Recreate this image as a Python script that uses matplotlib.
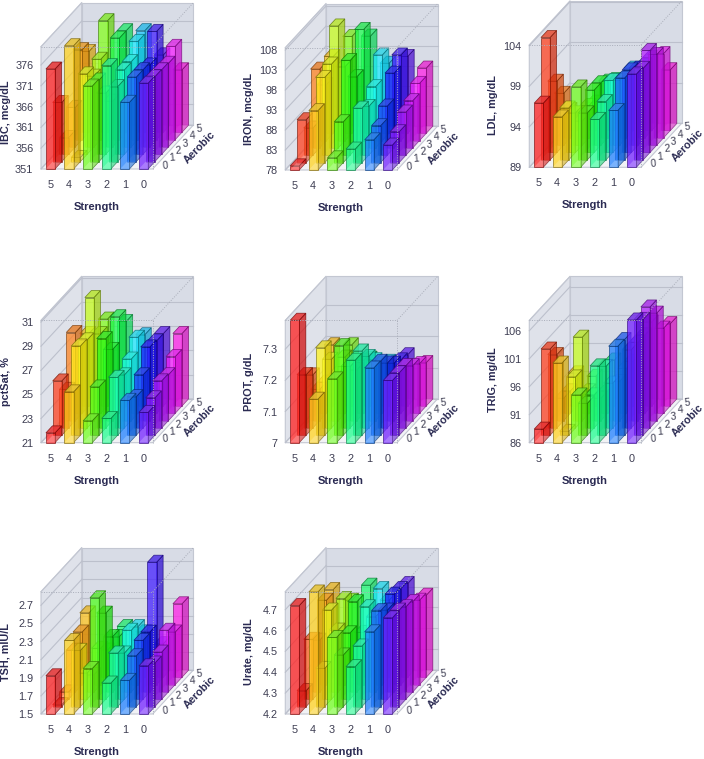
import colorsys
import matplotlib
matplotlib.use("Agg")
import matplotlib.pyplot as plt
from matplotlib.patches import Polygon

plt.rcParams['font.family'] = ['Liberation Sans', 'DejaVu Sans']

strength = [5, 4, 3, 2, 1, 0]
aerobic = [0, 1, 2, 3, 4, 5]

# rows: strength 5..0, columns: aerobic 0..5
IBC = [[375.0, 365.2, 355.0, 360.5, 372.6, 370.4],
       [380.6, 352.0, 370.3, 368.0, 370.3, 377.8],
       [370.9, 370.6, 365.7, 362.0, 375.4, 375.4],
       [375.8, 369.0, 371.3, 371.5, 374.6, 375.4],
       [367.0, 371.3, 371.3, 370.7, 377.0, 369.6],
       [371.6, 371.4, 371.3, 371.1, 373.4, 366.0]]
IRON = [[79.0, 88.7, 84.8, 97.7, 92.0, 97.2],
        [92.8, 99.3, 100.8, 108.5, 96.5, 102.2],
        [81.0, 88.2, 101.7, 95.8, 105.8, 102.3],
        [83.2, 91.6, 90.2, 93.3, 99.4, 95.5],
        [85.5, 87.2, 90.3, 96.7, 99.4, 97.2],
        [84.2, 85.7, 88.8, 89.8, 92.3, 94.3]]
LDL = [[96.9, 104.1, 97.8, 95.4, 92.5, 91.1],
       [95.2, 95.4, 93.9, 92.0, 93.0, 92.5],
       [98.9, 94.8, 96.7, 96.7, 96.0, 95.3],
       [94.9, 96.2, 97.9, 97.0, 96.4, 96.7],
       [96.0, 99.1, 99.2, 98.5, 98.0, 98.0],
       [100.5, 100.3, 101.6, 100.2, 99.4, 96.5]]
pctSat = [[21.8, 25.5, 24.2, 28.3, 26.5, 27.0],
          [25.2, 28.4, 28.3, 31.2, 27.6, 28.2],
          [22.8, 25.0, 28.4, 26.9, 29.0, 28.0],
          [23.0, 25.8, 25.4, 26.1, 27.3, 26.9],
          [24.5, 24.2, 25.4, 27.1, 27.0, 27.0],
          [23.5, 24.1, 24.9, 24.8, 25.7, 27.0]]
PROT = [[7.392, 7.194, 7.170, 7.100, 7.100, 7.196],
        [7.139, 7.280, 7.220, 7.150, 7.180, 7.196],
        [7.204, 7.287, 7.197, 7.163, 7.170, 7.153],
        [7.264, 7.270, 7.229, 7.195, 7.160, 7.143],
        [7.239, 7.237, 7.208, 7.184, 7.171, 7.164],
        [7.199, 7.200, 7.200, 7.176, 7.159, 7.139]]
TRIG = [[88.4, 101.4, 99.1, 90.0, 90.0, 91.9],
        [100.2, 86.7, 95.1, 100.9, 90.0, 91.3],
        [94.5, 91.7, 91.9, 90.0, 90.0, 94.2],
        [99.7, 98.3, 94.0, 93.0, 94.0, 94.0],
        [103.2, 103.1, 100.0, 100.0, 100.0, 101.0],
        [107.9, 106.7, 107.6, 105.2, 101.2, 100.7]]
TSH = [[1.92, 1.52, 1.58, 1.96, 2.08, 2.21],
       [2.31, 2.12, 1.79, 1.69, 1.90, 1.80],
       [2.00, 2.70, 2.45, 2.11, 2.03, 2.06],
       [1.84, 2.09, 2.01, 2.18, 2.14, 2.00],
       [1.87, 2.06, 2.15, 2.16, 2.85, 1.87],
       [2.03, 1.98, 2.02, 2.18, 2.08, 2.31]]
Urate = [[4.719, 4.276, 4.487, 4.448, 4.604, 4.620],
         [4.784, 4.383, 4.627, 4.496, 4.612, 4.569],
         [4.566, 4.447, 4.518, 4.632, 4.450, 4.641],
         [4.426, 4.490, 4.643, 4.560, 4.660, 4.569],
         [4.593, 4.659, 4.627, 4.668, 4.660, 4.649],
         [4.660, 4.662, 4.643, 4.632, 4.604, 4.593]]

titles = ['IBC, mcg/dL', 'IRON, mcg/dL', 'LDL, mg/dL', 'pctSat, %', 'PROT, g/dL',
          'TRIG, mg/dL', 'TSH, mIU/L', 'Urate, mg/dL']
series = [IBC, IRON, LDL, pctSat, PROT, TRIG, TSH, Urate]
ticks = [[351, 356, 361, 366, 371, 376], [78, 83, 88, 93, 98, 103, 108], [89, 94, 99, 104],
         [21, 23, 25, 27, 29, 31], [7, 7.1, 7.2, 7.3], [86, 91, 96, 101, 106],
         [1.5, 1.7, 1.9, 2.1, 2.3, 2.5, 2.7], [4.2, 4.3, 4.4, 4.5, 4.6, 4.7]]
tick_text = [None, None, None, None, ['7', '7.1', '7.2', '7.3'], None, None, None]
ymax = [380.4, 108.6, 104.1, 31.14, 7.392, 107.85, 2.85, 4.786]
hue_base = [0, 48, 98, 150, 214, 262]

# layout in reference pixels
lefts = [41, 285.3, 529.3, 41, 285.3, 529.3, 41, 285.3]
bottoms = [169, 170, 167.3, 442.7, 442.7, 442.7, 714, 714]
label_x = [6, 249, 493, 6, 249, 493, 6, 249]
label_y = [112, 109, 105, 382, 382, 380, 652, 652]
W, H = 704, 759
FW, FH = 111.7, 122.3
ROW_X = 20.33 / 55.8      # x-data shift per depth row
ROW_Y = 22.0 / 367.0      # fraction of the value range per depth row
HALF = 0.245
TXT = '#3d3d52'
NAVY = '#2a2a52'

fig = plt.figure(figsize=(W / 100, H / 100), dpi=100, facecolor='white')


def hue_col(h, s, v):
    return colorsys.hsv_to_rgb((h % 360) / 360, s, v)


for k, vals in enumerate(series):
    ax = fig.add_axes([lefts[k] / W, 1 - bottoms[k] / H, FW / W, FH / H])
    y0, y1 = ticks[k][0], ymax[k]
    ax.set_xlim(5.5, -0.5)
    ax.set_ylim(y0, y1)
    ax.patch.set_visible(False)
    for sp in ax.spines.values():
        sp.set_visible(False)
    dy = (y1 - y0) * ROW_Y

    def P(x, v, d):
        return (x - d * ROW_X, v + d * dy)

    def face(pts, **kw):
        ax.add_patch(Polygon(pts, closed=True, clip_on=False, **kw))

    def seg(a, b, **kw):
        ax.plot([a[0], b[0]], [a[1], b[1]], clip_on=False, **kw)

    xl, xr, D = 5.5, -0.5, 6
    # walls
    face([P(xl, y0, 0), P(xl, y1, 0), P(xl, y1, D), P(xl, y0, D)], fc='#dfe2ea', ec='#c3c7d2', lw=0.8, zorder=1)
    face([P(xl, y0, D), P(xl, y1, D), P(xr, y1, D), P(xr, y0, D)], fc='#d8dce6', ec='#c3c7d2', lw=0.8, zorder=1)
    face([P(xl, y0, 0), P(xr, y0, 0), P(xr, y0, D), P(xl, y0, D)], fc='#f1f2f5', ec='#c3c7d2', lw=0.8, zorder=1)
    seg(P(xl, y1, 0), P(xl, y1, D), color='#c3c7d2', lw=0.8, zorder=1.5)
    for t in ticks[k]:
        seg(P(xl, t, 0), P(xl, t, D), color='#bcc0cc', lw=0.8, zorder=1.5)
        seg(P(xl, t, D), P(xr, t, D), color='#bcc0cc', lw=0.8, zorder=1.5)

    # bars, back to front
    z = 2
    for j in reversed(range(6)):
        for i in range(6):
            s, a, v = strength[i], aerobic[j], vals[i][j]
            h = hue_base[i] + j * 8.9
            xa, xb = s + HALF, s - HALF
            d0, d1 = a + 0.02, a + 0.98
            edge = hue_col(h, 1.0, 0.45)
            ek = dict(ec=edge + (0.75,), lw=0.55, zorder=z)
            face([P(xb, y0, d0), P(xb, v, d0), P(xb, v, d1), P(xb, y0, d1)],
                 fc=hue_col(h, 0.95, 0.82) + (0.72,), **ek)
            face([P(xa, v, d0), P(xb, v, d0), P(xb, v, d1), P(xa, v, d1)],
                 fc=hue_col(h, 0.78, 0.9) + (0.85,), **ek)
            face([P(xa, y0, d0), P(xb, y0, d0), P(xb, v, d0), P(xa, v, d0)],
                 fc=hue_col(h, 0.88, 1.0) + (0.74,), **ek)
            face([P(xa, y0, d0), P(xb, y0, d0), P(xb, y0, d1), P(xa, y0, d1)],
                 fc='white', alpha=0.22, ec='none', zorder=z)
            z += 0.01

    # dotted front outline
    dot = dict(color='#a9adb9', lw=0.7, ls=(0, (1, 1.5)), zorder=4)
    seg(P(xl, y1, 0), P(xr, y1, 0), **dot)
    seg(P(xr, y0, 0), P(xr, y1, 0), **dot)
    seg(P(xr, y1, 0), P(xr, y1, D), **dot)

    # axes ticks and titles
    ax.set_xticks(strength)
    ax.set_xticklabels([str(s) for s in strength], fontsize=7.8, color=TXT)
    ax.tick_params(axis='x', length=0, pad=8)
    ax.set_yticks(ticks[k])
    if tick_text[k]:
        ax.set_yticklabels(tick_text[k])
    ax.tick_params(axis='y', length=0, pad=5.5, labelsize=7.8, labelcolor=TXT)
    ax.set_xlabel('Strength', fontsize=8, fontweight='bold', color=NAVY, labelpad=0)
    ax.xaxis.set_label_coords(0.5, -38 / FH, transform=ax.transAxes)
    ax.xaxis.label.set_verticalalignment('center')
    ax.set_ylabel(titles[k], fontsize=7.8, fontweight='bold', color=NAVY)
    ax.yaxis.label.set_verticalalignment('center')
    ax.yaxis.set_label_coords((label_x[k] - lefts[k]) / FW, (bottoms[k] - label_y[k]) / FH)

    # depth axis
    for a in aerobic:
        x, y = P(xr - 0.47, y0, a + 0.5)
        ax.text(x, y, str(a), fontsize=7.5, color=TXT, ha='center', va='center', rotation=5, clip_on=False, zorder=5)
    x, y = P(xr - 1.42, y0, 3.0)
    ax.text(x, y, 'Aerobic', fontsize=7.8, fontweight='bold', color=NAVY, ha='center', va='center',
            rotation=46, rotation_mode='anchor', clip_on=False, zorder=5)

fig.savefig('out.png', dpi=100)
